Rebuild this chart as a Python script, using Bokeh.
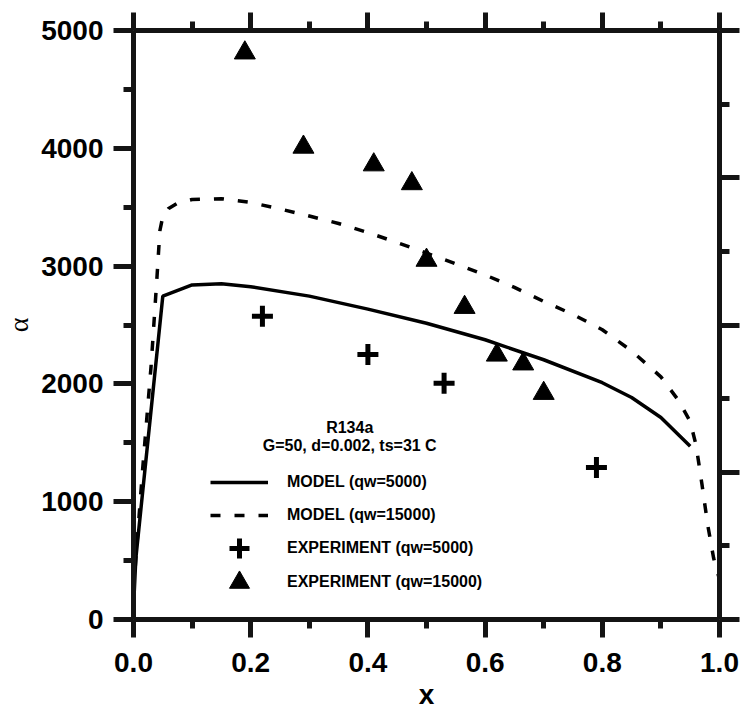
from bokeh.plotting import figure
from bokeh.models import (LinearAxis, FixedTicker, Range1d, NumeralTickFormatter,
                          Legend, LegendItem, Label)
from bokeh.embed import file_html
from bokeh.resources import INLINE

# Model curves: heat transfer coefficient alpha against vapour quality x
model_x_5000 = [0.0, 0.004, 0.05, 0.1, 0.15, 0.2, 0.3, 0.4, 0.5, 0.6, 0.7, 0.8, 0.85, 0.9, 0.95]
model_a_5000 = [100, 520, 2745, 2840, 2850, 2825, 2745, 2635, 2515, 2375, 2205, 2010, 1885, 1715, 1470]

model_x_15000 = [0.0, 0.015, 0.03, 0.04, 0.045, 0.05, 0.06, 0.075, 0.1, 0.15, 0.2, 0.25, 0.3,
                 0.35, 0.4, 0.45, 0.5, 0.55, 0.6, 0.65, 0.7, 0.75, 0.8, 0.85, 0.9, 0.93,
                 0.95, 0.96, 0.97, 0.98, 0.99, 1.0]
model_a_15000 = [250, 1240, 2150, 2900, 3300, 3420, 3490, 3535, 3565, 3572, 3540, 3485, 3425,
                 3362, 3285, 3200, 3110, 3020, 2925, 2820, 2700, 2590, 2460, 2280, 2060, 1860,
                 1680, 1480, 1150, 800, 520, 340]

# Measured points
exp_x_5000 = [0.22, 0.40, 0.53, 0.79]
exp_a_5000 = [2575, 2250, 2005, 1290]

exp_x_15000 = [0.19, 0.29, 0.41, 0.475, 0.50, 0.565, 0.62, 0.665, 0.70]
exp_a_15000 = [4810, 4010, 3860, 3700, 3050, 2650, 2245, 2170, 1920]

# Axis ticks
x_major = [0.0, 0.2, 0.4, 0.6, 0.8, 1.0]
x_minor = [0.1, 0.3, 0.5, 0.7, 0.9]
y_major = [0, 1000, 2000, 3000, 4000, 5000]
y_minor = [500, 1500, 2500, 3500, 4500]
right_major = [0, 1250, 2500, 3750, 5000]
right_minor = [625, 1875, 3125, 4375]

header_lines = ["R134a", "G=50, d=0.002, ts=31 C"]
legend_labels = ["MODEL (qw=5000)", "MODEL (qw=15000)",
                 "EXPERIMENT (qw=5000)", "EXPERIMENT (qw=15000)"]

FONT = "Liberation Sans"
INK = "#141414"

p = figure(width=746, height=714, output_backend="svg", toolbar_location=None,
           x_axis_type=None, y_axis_type=None,
           x_range=Range1d(0, 1), y_range=Range1d(0, 5000),
           min_border_left=133, min_border_right=27, min_border_top=30, min_border_bottom=95)
p.outline_line_color = None
p.background_fill_color = None
p.border_fill_color = None


def style_axis(ax, major_out, minor_out, show_labels):
    ax.axis_line_width = 5
    ax.axis_line_color = INK
    ax.major_tick_line_color = INK
    ax.minor_tick_line_color = INK
    ax.major_tick_line_width = 5
    ax.minor_tick_line_width = 5
    ax.major_tick_in = 0
    ax.minor_tick_in = 0
    ax.major_tick_out = major_out
    ax.minor_tick_out = minor_out
    ax.major_label_text_font = FONT
    ax.major_label_text_font_style = "bold"
    ax.major_label_text_color = "black"
    ax.major_label_text_font_size = "28px"
    ax.axis_label_text_color = "black"
    if not show_labels:
        ax.major_label_overrides = {t: "" for t in ax.ticker.ticks}
        ax.major_label_standoff = 0


bottom = LinearAxis(ticker=FixedTicker(ticks=x_major, minor_ticks=x_minor),
                    formatter=NumeralTickFormatter(format="0.0"), axis_label="x")
style_axis(bottom, 18, 9, True)
bottom.major_label_standoff = 15
bottom.axis_label_text_font = FONT
bottom.axis_label_text_font_style = "bold"
bottom.axis_label_text_font_size = "28px"
bottom.axis_label_standoff = 4
p.add_layout(bottom, "below")

top = LinearAxis(ticker=FixedTicker(ticks=x_major, minor_ticks=x_minor))
style_axis(top, 18, 9, False)
p.add_layout(top, "above")

left = LinearAxis(ticker=FixedTicker(ticks=y_major, minor_ticks=y_minor),
                  formatter=NumeralTickFormatter(format="0"), axis_label="\u03b1")
style_axis(left, 20, 10, True)
left.major_label_standoff = 10
left.axis_label_text_font = "Liberation Serif"
left.axis_label_text_font_style = "normal"
left.axis_label_text_font_size = "28px"
left.axis_label_standoff = 4
p.add_layout(left, "left")

right = LinearAxis(ticker=FixedTicker(ticks=right_major, minor_ticks=right_minor))
style_axis(right, 20, 10, False)
p.add_layout(right, "right")

r_solid = p.line(model_x_5000, model_a_5000, line_color="black", line_width=3.5)
r_dash = p.line(model_x_15000, model_a_15000, line_color="black", line_width=3.5,
                line_dash="10 14")
r_plus = p.scatter(exp_x_5000, exp_a_5000, marker="cross", size=21, line_width=5,
                   line_color="black")
r_tri = p.scatter(exp_x_15000, exp_a_15000, marker="triangle", size=21,
                  fill_color="black", line_color="black", line_width=1)

# One single-row legend per series so each row can hold a full-size marker
legend_rows = [(legend_labels[0], r_solid, 112),
               (legend_labels[1], r_dash, 79),
               (legend_labels[2], r_plus, 46),
               (legend_labels[3], r_tri, 12)]
for label, renderer, y_off in legend_rows:
    lg = Legend(items=[LegendItem(label=label, renderers=[renderer])],
                location=(77, y_off), orientation="vertical",
                glyph_width=58, glyph_height=50, label_height=20, spacing=0,
                label_standoff=19, padding=0, margin=0,
                border_line_color=None, background_fill_alpha=0,
                label_text_font=FONT, label_text_font_style="bold",
                label_text_font_size="16px", label_text_color="black")
    p.add_layout(lg, "center")

for text, ya in zip(header_lines, [1630, 1480]):
    p.add_layout(Label(x=0.369, y=ya, text=text, text_align="center",
                       text_baseline="middle", text_font=FONT,
                       text_font_style="bold", text_font_size="16px",
                       text_color="black"))

open("out.html", "w").write(file_html(p, INLINE))
